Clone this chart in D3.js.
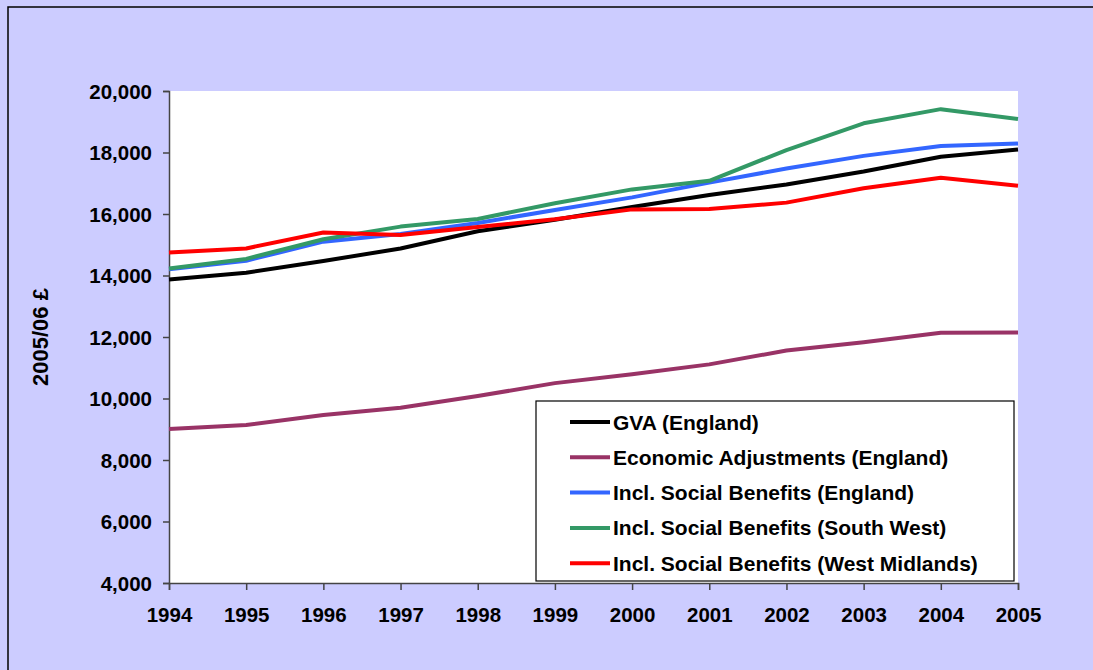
<!DOCTYPE html>
<html>
<head>
<meta charset="utf-8">
<script src="https://cdn.jsdelivr.net/npm/d3@7"></script>
<style>
  html, body { margin: 0; padding: 0; background: #ccccff; overflow: hidden; }
  svg { display: block; }
  text { font-family: "Liberation Sans", Arial, sans-serif; font-weight: bold; fill: #000; }
</style>
</head>
<body>
<svg id="canvas"></svg>
<script>
// values (2005/06 £ per head)
let years = [1994, 1995, 1996, 1997, 1998, 1999, 2000, 2001, 2002, 2003, 2004, 2005]

let gvaEngland      = [13870, 14090, 14470, 14880, 15440, 15810, 16230, 16620, 16960, 17380, 17860, 18100]
let econAdjEngland  = [9010, 9140, 9460, 9700, 10080, 10500, 10790, 11110, 11560, 11830, 12140, 12150]
let socialEngland   = [14200, 14480, 15100, 15350, 15710, 16130, 16540, 17020, 17480, 17890, 18210, 18290]
let socialSouthWest = [14230, 14540, 15180, 15590, 15840, 16350, 16800, 17080, 18080, 18950, 19410, 19090]
let socialWestMids  = [14750, 14880, 15400, 15320, 15580, 15830, 16150, 16160, 16370, 16840, 17180, 16920]

let seriesNames = [
  "GVA (England)",
  "Economic Adjustments (England)",
  "Incl. Social Benefits (England)",
  "Incl. Social Benefits (South West)",
  "Incl. Social Benefits (West Midlands)"
]
let seriesValues = [gvaEngland, econAdjEngland, socialEngland, socialSouthWest, socialWestMids]
let seriesColors = ["#000000", "#993366", "#3366ff", "#339966", "#ff0000"]

let yTicks = [4000, 6000, 8000, 10000, 12000, 14000, 16000, 18000, 20000]

let width = 1093
let height = 670

let plot = { left: 169, top: 91, right: 1018, bottom: 583 }

let canvas = d3.select("#canvas")
               .attr("width", width)
               .attr("height", height)

// lavender background, frame only on top and left (rest is cropped off)
canvas.append("rect")
      .attr("x", 0).attr("y", 0)
      .attr("width", width).attr("height", height)
      .attr("fill", "#ccccff")

canvas.append("path")
      .attr("d", "M8," + height + "V7H" + width)
      .attr("fill", "none")
      .attr("stroke", "#000")
      .attr("stroke-width", 1.5)

// white plot area
canvas.append("rect")
      .attr("x", plot.left).attr("y", plot.top)
      .attr("width", plot.right - plot.left)
      .attr("height", plot.bottom - plot.top)
      .attr("fill", "#fff")

let x = d3.scaleLinear()
          .domain([years[0], years[years.length - 1]])
          .range([plot.left, plot.right])

let y = d3.scaleLinear()
          .domain([4000, 20000])
          .range([plot.bottom, plot.top])

let yAxis = d3.axisLeft(y)
              .tickValues(yTicks)
              .tickFormat(d3.format(","))
              .tickSize(6)
              .tickPadding(11)

let xAxis = d3.axisBottom(x)
              .tickValues(years)
              .tickFormat(d3.format("d"))
              .tickSize(7)
              .tickPadding(17)

let yG = canvas.append("g")
               .attr("transform", "translate(" + plot.left + ",0)")
               .call(yAxis)

let xG = canvas.append("g")
               .attr("transform", "translate(0," + plot.bottom + ")")
               .call(xAxis)

;[yG, xG].forEach(g => {
  g.select(".domain").attr("stroke", "#444").attr("stroke-width", 1.5)
  g.selectAll(".tick line").attr("stroke", "#444").attr("stroke-width", 1.5)
  g.selectAll(".tick text")
   .attr("font-size", 20.5)
   .attr("font-family", "'Liberation Sans', Arial, sans-serif")
   .attr("font-weight", "bold")
   .attr("fill", "#000")
})
yG.selectAll(".tick text").attr("dy", "0.36em")

// y axis title
canvas.append("text")
      .attr("transform", "translate(48,337) rotate(-90)")
      .attr("text-anchor", "middle")
      .attr("font-size", 22)
      .text("2005/06 £")

// lines
let line = d3.line()
             .x((d, i) => x(years[i]))
             .y(d => y(d))

canvas.selectAll("path.series")
      .data(seriesValues)
      .enter()
      .append("path")
      .attr("class", "series")
      .attr("d", d => line(d))
      .attr("fill", "none")
      .attr("stroke", (d, i) => seriesColors[i])
      .attr("stroke-width", 4)
      .attr("stroke-linejoin", "round")

// legend
let legend = canvas.append("g")

legend.append("rect")
      .attr("x", 536).attr("y", 401)
      .attr("width", 478).attr("height", 180)
      .attr("fill", "#fff")
      .attr("stroke", "#000")
      .attr("stroke-width", 1.2)

let rows = legend.selectAll("g.row")
                 .data(seriesNames)
                 .enter()
                 .append("g")
                 .attr("class", "row")
                 .attr("transform", (d, i) => "translate(0," + (422 + i * 35.3) + ")")

rows.append("line")
    .attr("x1", 570).attr("x2", 610)
    .attr("y1", 0).attr("y2", 0)
    .attr("stroke", (d, i) => seriesColors[i])
    .attr("stroke-width", 4)

rows.append("text")
    .attr("x", 613)
    .attr("y", 7.5)
    .attr("font-size", 21)
    .text(d => d)
</script>
</body>
</html>
